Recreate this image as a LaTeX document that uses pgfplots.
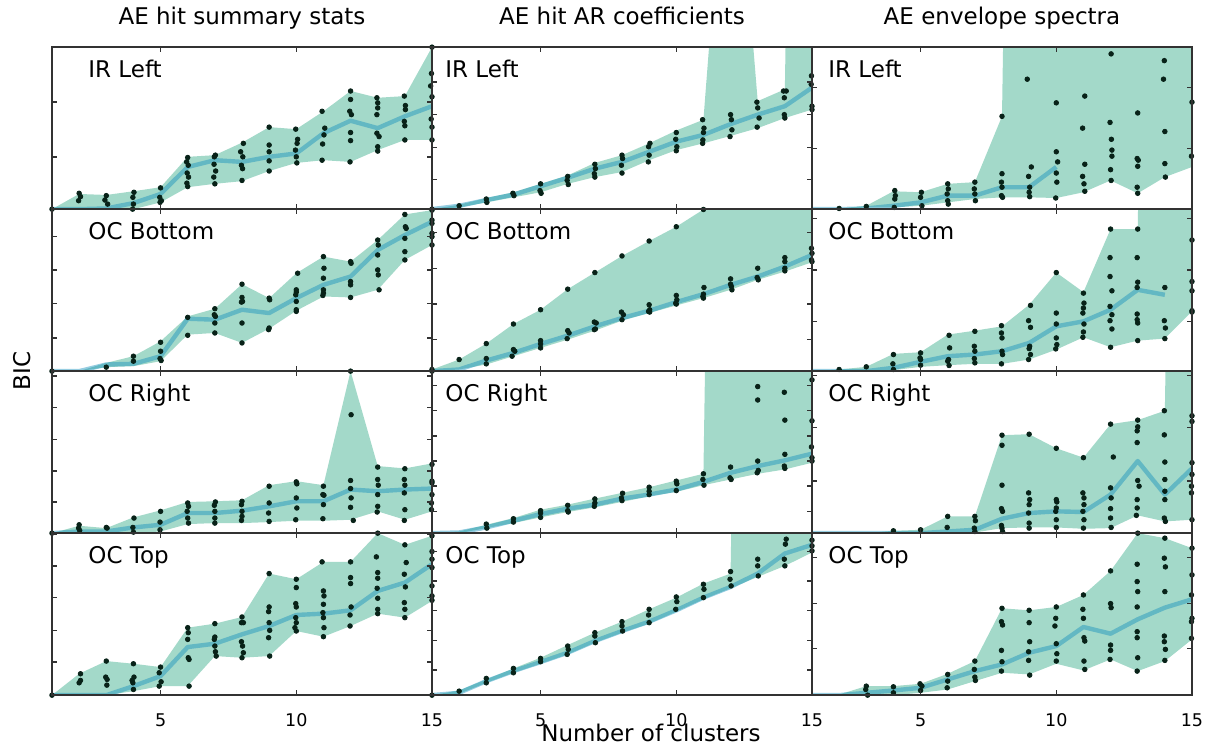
\documentclass[border=0pt]{standalone}
\usepackage{pgfplots}
\pgfplotsset{compat=1.18}
\usepackage{pgfplotstable}
\usepgfplotslibrary{fillbetween}
\usepackage{fontspec}
\setmainfont{DejaVu Sans}
\definecolor{fillc}{RGB}{163,217,201}
\definecolor{linec}{RGB}{22,144,189}
\definecolor{axisc}{RGB}{50,50,50}
\definecolor{dotc}{RGB}{8,34,24}
\newcommand{\lab}{\fontsize{11.5}{13}\selectfont}
\newcommand{\tck}{\fontsize{8.75}{10}\selectfont}
\pgfplotsset{
  panel/.style={scale only axis, width=190pt, height=81pt, anchor=north west,
    xmin=1, xmax=15, xtick={5,10,15}, xticklabels={}, yticklabels={},
    tick align=inside, xtick pos=both, ytick pos=both, major tick length=2.5pt,
    axis line style={line width=0.7pt, draw=axisc},
    every tick/.style={line width=0.7pt, draw=axisc},
    axis on top, clip=true,
    xticklabel style={font=\tck, anchor=base, yshift=-15.5pt},
    title style={font=\lab, at={(0.5,1)}, anchor=base, yshift=5.5pt}},
  meanline/.style={line width=2.2pt, draw=linec, draw opacity=0.45, line join=round},
  dots/.style={only marks, mark=*, mark size=1.15pt, color=dotc, mark options={draw=dotc, fill=dotc}}
}
\newcommand{\panel}[5]{%
\begin{axis}[panel, #1]
\addplot[name path=hi, draw=none] table[x=x,y=hi]{#2};
\addplot[name path=lo, draw=none] table[x=x,y=lo]{#2};
\addplot[fill=fillc, draw=none] fill between[of=hi and lo];
\addplot[meanline] table[x=x,y=mn]{#2};
\addplot[dots] coordinates {#3};
\node[anchor=base west, font=\lab, inner sep=0pt] at ([xshift=#5, yshift=-15pt]rel axis cs:0,1) {#4};
\end{axis}}

\pgfplotstableread{
x lo hi mn
1 -505 -505 -505
2 -505 -460 -505
3 -505 -463 -503
4 -505 -452 -487
5 -485 -440 -460
6 -440 -350 -380
7 -430 -345 -360
8 -422 -308 -365
9 -392 -262 -350
10 -368 -268 -340
11 -360 -215 -280
12 -365 -155 -243
13 -330 -175 -265
14 -300 -170 -230
15 -300 -25 -200
}\Paa
\pgfplotstableread{
x lo hi mn
1 -505 -505 -505
2 -500 -492 -495
3 -485 -472 -478
4 -470 -455 -462
5 -455 -430 -437
6 -430 -405 -412
7 -410 -368 -385
8 -395 -345 -365
9 -360 -310 -335
10 -330 -272 -305
11 -310 -240 -285
12 -288 800 -253
13 -265 -185 -225
14 -235 -150 -200
15 -210 5000 -145
}\Pab
\pgfplotstableread{
x lo hi mn
1 -505 -505 -505
2 -505 -503 -505
3 -500 -495 -503
4 -500 -452 -495
5 -495 -455 -485
6 -485 -430 -465
7 -475 -425 -465
8 -470 -230 -440
9 -470 5000 -440
10 -472 5000 -380
11 -455 5000 nan
12 -420 5000 nan
13 -458 5000 nan
14 -410 5000 nan
15 -380 5000 nan
}\Pac
\pgfplotstableread{
x lo hi mn
1 -500 -500 -500
2 -500 -500 -500
3 -488 -475 -480
4 -485 -455 -478
5 -470 -410 -455
6 -390 -335 -342
7 -385 -312 -345
8 -415 -238 -315
9 -372 -280 -325
10 -318 -205 -280
11 -275 -155 -240
12 -278 -170 -215
13 -255 -105 -135
14 -165 -28 -90
15 -120 -15 -50
}\Pba
\pgfplotstableread{
x lo hi mn
1 -500 -495 -500
2 -495 -465 -495
3 -480 -417 -468
4 -455 -358 -445
5 -430 -315 -418
6 -405 -253 -393
7 -378 -203 -365
8 -348 -153 -340
9 -325 -108 -318
10 -302 -65 -292
11 -280 -13 -268
12 -255 37 -240
13 -225 87 -215
14 -200 137 -185
15 -172 187 -150
}\Pbb
\pgfplotstableread{
x lo hi mn
1 -500 -500 -500
2 -500 -495 -500
3 -500 -487 -500
4 -497 -448 -490
5 -487 -443 -472
6 -482 -390 -455
7 -478 -378 -450
8 -478 -365 -440
9 -465 -300 -415
10 -435 -203 -365
11 -398 -262 -350
12 -428 -72 -315
13 -408 -72 -255
14 -402 5000 -270
15 -320 5000 nan
}\Pbc
\pgfplotstableread{
x lo hi mn
1 -505 -505 -505
2 -505 -483 -500
3 -505 -490 -500
4 -505 -458 -488
5 -500 -437 -480
6 -478 -412 -445
7 -475 -410 -445
8 -475 -407 -438
9 -472 -362 -425
10 -468 -350 -410
11 -468 -362 -410
12 -465 -22 -375
13 -440 -305 -380
14 -465 -312 -375
15 -440 -297 -372
}\Pca
\pgfplotstableread{
x lo hi mn
1 -505 -505 -505
2 -505 -500 -503
3 -490 -480 -488
4 -475 -460 -468
5 -458 -435 -448
6 -442 -420 -432
7 -428 -402 -420
8 -412 -385 -402
9 -395 -368 -390
10 -382 -348 -375
11 -362 -328 -352
12 -345 5000 -325
13 -328 5000 -305
14 -315 5000 -288
15 -295 5000 -268
}\Pcb
\pgfplotstableread{
x lo hi mn
1 -505 -505 -505
2 -505 -505 -505
3 -505 -505 -505
4 -505 -498 -505
5 -505 -495 -505
6 -505 -455 -500
7 -503 -455 -495
8 -490 -213 -462
9 -488 -210 -445
10 -488 -252 -440
11 -492 -280 -442
12 -490 -180 -390
13 -452 -168 -290
14 -470 -140 -390
15 -465 5000 -312
}\Pcc
\pgfplotstableread{
x lo hi mn
1 -512 -512 -512
2 -512 -448 -512
3 -512 -410 -512
4 -500 -418 -485
5 -485 -428 -455
6 -485 -310 -368
7 -395 -298 -358
8 -400 -278 -330
9 -395 -148 -305
10 -320 -165 -272
11 -337 -113 -268
12 -305 -113 -258
13 -268 -27 -200
14 -280 -62 -175
15 -230 -35 -120
}\Pda
\pgfplotstableread{
x lo hi mn
1 -512 -512 -512
2 -508 -498 -505
3 -475 -465 -470
4 -445 -432 -440
5 -418 -400 -413
6 -390 -362 -385
7 -355 -325 -350
8 -325 -292 -320
9 -298 -255 -292
10 -262 -220 -258
11 -225 -178 -220
12 -192 -148 -188
13 -158 5000 -148
14 -125 5000 -88
15 -85 5000 -62
}\Pdb
\pgfplotstableread{
x lo hi mn
1 -512 -512 -512
2 -512 -510 -512
3 -512 -485 -505
4 -512 -485 -498
5 -505 -478 -490
6 -495 -448 -465
7 -470 -410 -440
8 -445 -252 -420
9 -450 -258 -385
10 -418 -248 -365
11 -438 -212 -308
12 -405 -140 -328
13 -440 -27 -285
14 -410 -42 -250
15 -345 -72 -225
}\Pdc

\begin{document}
\begin{tikzpicture}
\path (0pt,0pt) rectangle (611.5pt,-371pt);

% Row 1
\panel{at={(26pt,-19pt)}, ymin=-505, ymax=-25, ytick={-350,-188}, title={AE hit summary stats}}{\Paa}{
(1,-505) (2.0,-458) (2.05,-468) (1.98,-480) (3.0,-465) (2.95,-478) (3.05,-490)
(4.02,-455) (3.98,-470) (4.0,-490) (3.97,-505) (5.0,-442) (4.97,-470) (5.03,-480) (4.98,-485)
(6.0,-352) (5.96,-365) (6.02,-375) (5.98,-398) (6.03,-410) (5.97,-428) (6.0,-438)
(7.02,-345) (6.98,-350) (6.97,-372) (7.03,-392) (6.96,-410) (7.0,-430)
(7.95,-335) (8.05,-310) (8.03,-350) (7.98,-375) (8.02,-385) (8.0,-420)
(9.0,-262) (9.0,-315) (9.0,-335) (9.0,-362) (9.0,-392)
(10.05,-298) (9.98,-268) (10.03,-310) (9.97,-330) (10.0,-350) (10.02,-368)
(10.95,-215) (11.05,-265) (11.02,-285) (10.97,-312) (10.95,-360)
(12.0,-155) (12.0,-180) (11.97,-215) (12.03,-225) (12.0,-278) (12.0,-302) (11.98,-365)
(12.97,-175) (13.0,-190) (13.0,-205) (12.97,-225) (12.97,-280) (13.05,-290) (13.0,-320) (13.0,-333)
(13.98,-170) (14.02,-198) (14.02,-210) (13.98,-245) (14.0,-258) (14.0,-300)
(15.0,-25) (14.98,-103) (14.95,-140) (15.0,-172) (15.02,-228) (14.97,-238) (15.0,-262) (15.0,-300)
}{IR Left}{18pt}
\panel{at={(216pt,-19pt)}, ymin=-505, ymax=-25, ytick={-418,-322,-225,-128}, title={AE hit AR coefficients}}{\Pab}{
(1,-505) (2,-495) (3,-475) (3.02,-485) (3.98,-458) (4.02,-465) (5.0,-430) (4.98,-450) (5.02,-458)
(6.0,-408) (5.98,-420) (6.02,-432) (7.0,-372) (7.02,-385) (6.98,-400) (7.0,-410)
(8.0,-345) (8.02,-355) (7.98,-375) (8.0,-398) (9.03,-310) (8.98,-320) (9.0,-345) (8.97,-365)
(10.0,-278) (9.98,-298) (10.02,-320) (10.0,-332) (10.97,-240) (11.02,-265) (11.0,-278) (10.98,-300) (10.97,-310)
(12.0,-225) (12.03,-240) (12.05,-270) (11.98,-290) (12.97,-188) (13.0,-205) (13.05,-235) (12.98,-262)
(13.95,-155) (14.05,-155) (13.98,-175) (13.98,-225) (14.0,-235) (14.98,-110) (14.97,-135) (15.0,-200) (15.0,-210)
}{IR Left}{6.5pt}
\panel{at={(406pt,-19pt)}, ymin=-505, ymax=-25, ytick={-325,-145}, title={AE envelope spectra}}{\Pac}{
(2,-503) (3,-497) (4.05,-450) (4.07,-465) (4.05,-475) (4.03,-500) (5.03,-455) (5.0,-470) (5.05,-495)
(6.0,-430) (6.02,-445) (5.98,-460) (6.0,-480) (6.02,-490) (7.0,-425) (6.98,-445) (7.0,-460) (7.02,-480)
(8.0,-230) (8.0,-400) (7.98,-425) (8.0,-440) (7.98,-465) (8.02,-470)
(8.93,-120) (9.08,-380) (8.98,-408) (9.02,-440) (9.0,-455) (9.02,-468)
(10.0,-190) (10.0,-335) (10.05,-365) (10.0,-398) (10.02,-425) (9.98,-472)
(11.05,-170) (10.97,-265) (11.05,-372) (10.97,-408) (11.02,-430) (11.05,-452)
(12.02,-45) (11.98,-248) (12.03,-298) (12.05,-330) (12.05,-348) (12.0,-388) (12.02,-420)
(13.0,-220) (12.98,-355) (13.02,-360) (13.0,-378) (12.98,-440) (13.0,-458)
(13.98,-65) (13.95,-120) (14.0,-275) (14.0,-370) (14.02,-410)
(15.0,-188) (14.98,-348) (15.02,-365) (15.02,-380)
}{IR Left}{8pt}

% Row 2
\panel{at={(26pt,-100pt)}, ymin=-500, ymax=-12, ytick={-400,-297,-195,-95}}{\Pba}{
(1,-500) (3.0,-488) (4.0,-455) (4.0,-470) (5.0,-413) (5.0,-440) (4.98,-462) (5.02,-468)
(6.0,-338) (6.0,-392) (7.0,-312) (6.98,-330) (7.02,-335) (7.0,-355) (7.0,-385)
(8.0,-238) (8.0,-278) (8.02,-290) (7.98,-292) (8.0,-355) (8.0,-415)
(9.0,-280) (9.02,-285) (9.0,-370) (8.98,-375)
(10.05,-205) (10.0,-255) (10.0,-262) (9.98,-270) (10.0,-290) (10.0,-315) (10.0,-320)
(11.0,-155) (11.02,-190) (11.0,-220) (11.0,-255) (11.0,-265) (10.98,-272)
(12.0,-170) (12.02,-175) (12.0,-230) (12.0,-240) (12.0,-278)
(13.0,-105) (13.02,-120) (13.0,-150) (13.0,-195) (13.02,-210) (13.05,-255)
(14.0,-28) (14.02,-65) (14.05,-70) (14.0,-100) (14.0,-140) (14.0,-165)
(15.0,-15) (15.0,-45) (15.0,-55) (15.0,-85) (15.0,-95) (15.0,-120)
}{OC Bottom}{18pt}
\panel{at={(216pt,-100pt)}, ymin=-500, ymax=-12, ytick={-405,-298,-190,-82}}{\Pbb}{
(1,-495) (1,-500) (2,-465) (3,-417) (3.0,-462) (3.0,-478) (4,-358) (4.0,-435) (4.05,-440) (3.95,-455)
(5,-315) (5.0,-408) (5.0,-418) (5.0,-430) (6,-253) (6.0,-378) (6.05,-385) (5.98,-402)
(7,-203) (6.98,-352) (7.05,-355) (7.02,-373) (6.98,-375) (8,-153) (7.98,-322) (8.05,-330) (8.0,-345)
(9,-108) (9.0,-300) (9.02,-315) (8.98,-320) (9.02,-322) (10,-65) (10.0,-272) (10.02,-285) (9.98,-295) (10.0,-298)
(11,-13) (11.02,-248) (11.0,-268) (10.98,-275) (11.0,-280) (12.0,-222) (12.0,-238) (12.03,-245) (12.05,-255)
(13.0,-190) (12.98,-218) (13.02,-225) (14.0,-158) (14.0,-170) (14.0,-190) (14.0,-198)
(14.98,-130) (15.0,-145) (14.98,-165) (15.0,-170)
}{OC Bottom}{6.5pt}
\panel{at={(406pt,-100pt)}, ymin=-500, ymax=-12, ytick={-350,-195,-40}}{\Pbc}{
(2,-495) (3,-487) (4.0,-450) (3.98,-478) (4.0,-495) (5.0,-445) (4.98,-460) (5.0,-465) (5.0,-482)
(6.05,-392) (6.07,-430) (6.03,-465) (6.0,-470) (6.05,-483) (7.0,-380) (6.98,-425) (7.0,-440) (6.98,-462) (7.0,-475)
(7.98,-363) (7.98,-385) (8.0,-400) (8.0,-440) (8.02,-450) (7.98,-478)
(9.05,-302) (8.98,-348) (9.05,-368) (9.02,-425) (9.0,-432) (9.05,-450) (8.98,-465)
(10.0,-203) (10.0,-325) (10.0,-358) (10.0,-400) (10.02,-420) (9.98,-433)
(11.0,-265) (11.02,-295) (11.0,-310) (10.98,-325) (11.02,-358) (11.0,-382) (10.98,-398)
(12.0,-72) (11.98,-158) (11.98,-215) (12.05,-258) (11.98,-305) (12.05,-330) (11.98,-348) (12.05,-373) (12.0,-428)
(13.0,-72) (12.98,-158) (13.0,-232) (12.98,-248) (12.98,-328) (12.98,-345) (13.0,-355) (13.0,-408)
(14.0,-248) (13.98,-348) (14.02,-370) (14.0,-402)
(15.0,-105) (15.0,-230) (15.0,-258) (15.0,-318) (15.0,-322)
}{OC Bottom}{8pt}

% Row 3
\panel{at={(26pt,-181pt)}, ymin=-505, ymax=-22, ytick={-412,-320,-225,-130,-36}}{\Pca}{
(1,-505) (2.0,-480) (1.98,-490) (2.02,-497) (3.0,-488) (3.03,-490) (4.02,-460) (3.98,-488) (4.0,-502)
(5.0,-440) (4.98,-472) (4.98,-495) (6.0,-415) (6.03,-425) (5.98,-440) (6.0,-460) (6.03,-475)
(7.02,-412) (6.98,-422) (7.0,-440) (7.0,-460) (7.0,-475) (8.0,-410) (7.98,-420) (8.0,-440) (8.0,-455) (7.98,-467)
(9.0,-365) (9.0,-415) (8.98,-445) (9.0,-470) (10.0,-352) (10.02,-358) (10.0,-400) (10.02,-430) (9.98,-465)
(11.0,-365) (10.98,-390) (11.02,-392) (11.0,-420) (10.98,-462)
(12.0,-22) (12.02,-152) (12.0,-348) (12.0,-372) (12.02,-400) (12.0,-428) (12.1,-467)
(13.0,-308) (13.0,-345) (13.02,-362) (13.0,-390) (13.0,-425) (12.98,-442)
(14.0,-313) (13.98,-345) (14.0,-362) (13.98,-385) (14.0,-435) (13.98,-467)
(15.0,-300) (15.0,-350) (15.0,-355) (15.0,-390) (14.98,-415) (14.98,-435)
}{OC Right}{18pt}
\panel{at={(216pt,-181pt)}, ymin=-505, ymax=-22, ytick={-440,-365,-290,-215,-140,-65}}{\Pcb}{
(3.0,-478) (3.02,-490) (4.0,-462) (4.0,-472) (5.0,-438) (5.0,-445) (5.0,-458) (6.0,-422) (6.0,-438) (6.02,-442)
(7.0,-403) (7.0,-415) (6.98,-425) (8.02,-386) (7.98,-400) (8.0,-408) (9.0,-368) (9.0,-380) (9.0,-390)
(10.0,-350) (10.02,-358) (10.0,-378) (11.0,-328) (10.98,-345) (11.02,-362) (12.0,-308) (11.98,-340) (12.02,-345)
(13.0,-68) (13.0,-108) (13.0,-290) (13.02,-318) (12.98,-325) (13.98,-85) (14.0,-168) (14.0,-270) (13.98,-305) (14.0,-312)
(15.0,-48) (15.0,-170) (14.98,-248) (15.0,-280) (15.0,-290)
}{OC Right}{6.5pt}
\panel{at={(406pt,-181pt)}, ymin=-505, ymax=-22, ytick={-350,-190,-35}}{\Pcc}{
(4.0,-498) (5.0,-495) (6.0,-455) (5.98,-488) (7.0,-455) (7.02,-468) (6.98,-490) (7.0,-500)
(8.0,-213) (8.0,-243) (8.0,-362) (7.98,-432) (8.02,-440) (7.98,-482) (8.0,-490) (8.02,-500)
(9.0,-210) (8.98,-385) (9.02,-405) (9.0,-420) (8.98,-445) (9.0,-475) (9.0,-490)
(10.0,-252) (10.0,-405) (10.02,-412) (10.0,-430) (9.98,-440) (10.0,-465) (10.0,-488)
(11.0,-280) (10.98,-385) (11.02,-400) (11.02,-420) (10.98,-440) (11.02,-465) (11.0,-490)
(12.0,-180) (12.1,-278) (12.0,-370) (12.02,-400) (12.0,-432) (12.0,-460) (12.02,-488)
(13.0,-168) (13.0,-188) (12.98,-200) (12.98,-235) (13.0,-348) (13.05,-365) (12.98,-405) (12.98,-430) (12.95,-452)
(13.98,-140) (13.98,-212) (14.0,-293) (14.0,-345) (14.0,-380) (14.0,-405) (13.98,-460) (14.02,-470)
(15.0,-155) (15.0,-172) (15.0,-295) (15.0,-330) (14.98,-365) (15.02,-372) (14.98,-385) (15.0,-465)
}{OC Right}{8pt}

% Row 4
\panel{at={(26pt,-262pt)}, ymin=-512, ymax=-27, ytick={-413,-318,-220,-125,-29}, xticklabels={5,10,15}}{\Pda}{
(1,-512) (2.05,-448) (2.05,-468) (2.0,-475) (3.0,-410) (2.98,-458) (3.03,-465) (3.02,-482)
(4.0,-418) (4.02,-458) (3.95,-468) (3.98,-475) (4.0,-495) (5.0,-428) (4.95,-445) (5.02,-472) (4.95,-485)
(6.0,-310) (6.02,-325) (6.0,-345) (6.02,-400) (6.05,-405) (6.05,-485)
(7.0,-298) (7.0,-338) (6.98,-345) (7.0,-365) (7.02,-382) (7.05,-395)
(8.0,-278) (7.98,-295) (8.05,-295) (7.98,-352) (8.02,-365) (8.05,-385) (8.0,-400)
(9.0,-148) (9.0,-248) (8.98,-262) (9.0,-295) (9.02,-318) (8.98,-340) (9.02,-395)
(10.0,-165) (10.0,-190) (9.98,-238) (10.0,-248) (9.98,-280) (10.0,-295) (9.95,-310) (10.0,-320)
(10.95,-113) (11.0,-200) (11.02,-215) (11.0,-240) (10.98,-265) (11.0,-280) (11.02,-310) (11.0,-337)
(12.0,-113) (12.0,-160) (12.0,-178) (12.02,-248) (11.98,-272) (11.98,-305)
(13.0,-27) (12.95,-98) (13.0,-145) (13.0,-162) (12.98,-192) (13.0,-222) (13.0,-255) (13.0,-268)
(14.0,-62) (14.05,-115) (13.98,-150) (14.02,-188) (13.98,-235) (14.0,-255) (14.0,-280)
(15.0,-35) (15.0,-82) (15.0,-105) (15.0,-130) (15.0,-185) (15.0,-215) (15.0,-228)
}{OC Top}{18pt}
\panel{at={(216pt,-262pt)}, ymin=-512, ymax=-27, ytick={-437,-348,-258,-170,-82}, xticklabels={5,10,15}}{\Pdb}{
(1,-512) (2,-500) (3.0,-462) (3.0,-475) (4.0,-432) (4.0,-445) (5.0,-402) (5.0,-412)
(6.0,-365) (6.02,-375) (5.98,-390) (7.0,-325) (7.0,-335) (7.02,-355) (8.0,-292) (8.0,-305) (8.02,-320)
(9.0,-255) (8.98,-272) (9.0,-295) (10.0,-218) (10.02,-232) (9.98,-255) (11.0,-180) (11.02,-195) (11.0,-220)
(12.0,-142) (11.98,-165) (12.02,-185) (13.0,-105) (13.0,-125) (13.02,-155)
(14.05,-45) (14.02,-60) (13.98,-105) (14.0,-125) (15.0,-48) (15.0,-65) (15.0,-80)
}{OC Top}{6.5pt}
\panel{at={(406pt,-262pt)}, ymin=-512, ymax=-27, ytick={-372,-238,-100}, xticklabels={5,10,15}}{\Pdc}{
(3.0,-485) (2.98,-495) (3.05,-512) (4.0,-487) (4.0,-505) (4.98,-478) (5.05,-485) (5.0,-498)
(6.0,-450) (6.0,-470) (5.98,-490) (7.0,-410) (6.98,-435) (7.0,-458) (7.02,-468)
(8.0,-252) (7.98,-292) (8.02,-302) (7.98,-378) (8.0,-412) (7.98,-440)
(9.0,-258) (9.0,-295) (9.02,-352) (8.98,-382) (8.98,-408) (9.02,-452)
(10.0,-248) (9.98,-282) (9.95,-305) (10.0,-358) (10.02,-388) (10.0,-410)
(11.0,-212) (10.98,-255) (11.0,-282) (11.02,-340) (11.05,-350) (11.02,-410) (11.05,-435)
(12.0,-140) (12.0,-238) (12.02,-250) (12.0,-362) (12.0,-378) (11.98,-405)
(13.0,-27) (12.98,-120) (12.98,-172) (13.0,-202) (12.98,-248) (12.98,-322) (12.98,-340) (13.0,-400) (12.98,-440)
(14.0,-42) (13.98,-102) (14.02,-128) (14.0,-202) (13.98,-335) (13.98,-352) (14.02,-375) (14.0,-408)
(15.0,-72) (15.0,-152) (14.98,-212) (15.0,-282) (14.98,-292) (14.98,-342)
}{OC Top}{8pt}

\node[font=\lab, rotate=90, anchor=center] at (11pt,-181pt) {BIC};
\node[font=\lab, anchor=base] at (325.5pt,-366pt) {Number of clusters};
\end{tikzpicture}
\end{document}
